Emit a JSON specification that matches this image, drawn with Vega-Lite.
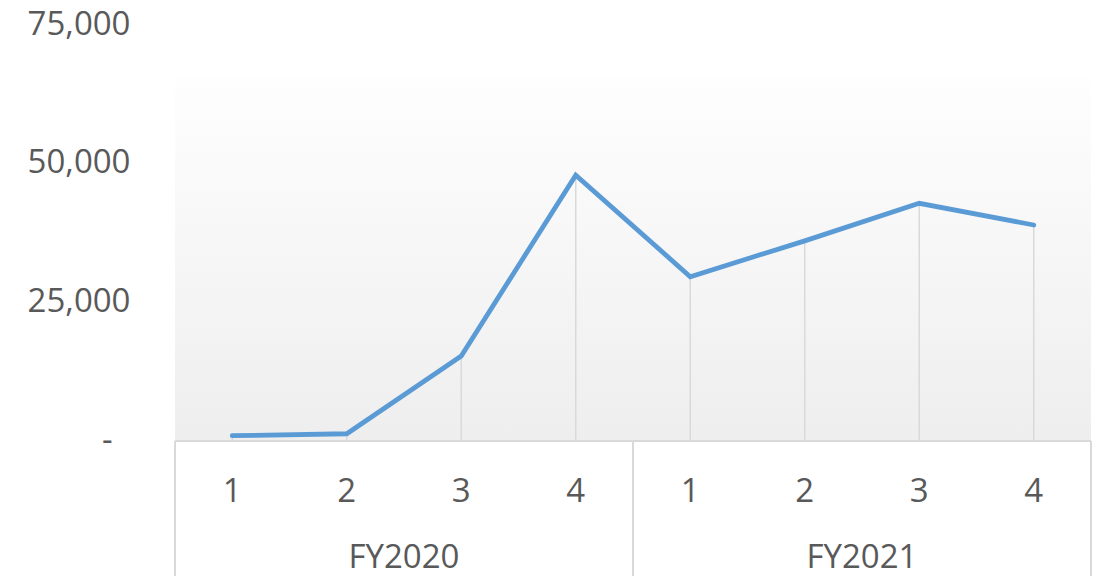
{
  "$schema": "https://vega.github.io/schema/vega-lite/v6.json",
  "width": 916,
  "height": 552,
  "autosize": {"type": "none"},
  "padding": {"left": 175, "top": 24, "right": 6, "bottom": 0},
  "background": "#ffffff",
  "config": {"view": {"stroke": null}, "font": "Open Sans"},
  "datasets": {
    "sales": [
      {"fy": "FY2020", "quarter": "1", "period": 1, "value": 950},
      {"fy": "FY2020", "quarter": "2", "period": 2, "value": 1300},
      {"fy": "FY2020", "quarter": "3", "period": 3, "value": 15300},
      {"fy": "FY2020", "quarter": "4", "period": 4, "value": 47800},
      {"fy": "FY2021", "quarter": "1", "period": 5, "value": 29550},
      {"fy": "FY2021", "quarter": "2", "period": 6, "value": 36000},
      {"fy": "FY2021", "quarter": "3", "period": 7, "value": 42750},
      {"fy": "FY2021", "quarter": "4", "period": 8, "value": 38850}
    ]
  },
  "data": {"name": "sales"},
  "layer": [
    {
      "mark": {
        "type": "rect",
        "fill": {
          "gradient": "linear", "x1": 0, "y1": 0, "x2": 0, "y2": 1,
          "stops": [{"offset": 0, "color": "#fefefe"}, {"offset": 1, "color": "#eeeeee"}]
        }
      },
      "encoding": {
        "x": {"datum": 0.5, "type": "quantitative", "scale": {"domain": [0.5, 8.5], "nice": false, "zero": false}, "axis": null},
        "x2": {"datum": 8.5},
        "y": {"datum": 65300, "type": "quantitative", "scale": {"domain": [-24281, 75000], "nice": false, "zero": false},
          "axis": {
            "title": null,
            "values": [0, 25000, 50000, 75000],
            "labelExpr": "datum.value == 0 ? '-' : format(datum.value, ',')",
            "domain": false,
            "ticks": false,
            "grid": false,
            "labelFont": "Open Sans",
            "labelFontSize": 33,
            "labelColor": "#595959",
            "labelPadding": {"condition": {"test": "datum.value == 0", "value": 63}, "value": 45}
          }
        },
        "y2": {"datum": 0}
      }
    },
    {
      "mark": {"type": "rule", "color": "#d9d9d9", "strokeWidth": 1.5},
      "encoding": {
        "x": {"field": "period", "type": "quantitative", "scale": {"domain": [0.5, 8.5], "nice": false, "zero": false}, "axis": null},
        "y": {"field": "value", "type": "quantitative", "scale": {"domain": [-24281, 75000], "nice": false, "zero": false}},
        "y2": {"datum": 0}
      }
    },
    {
      "mark": {"type": "rule", "color": "#d9d9d9", "strokeWidth": 2},
      "encoding": {
        "x": {"datum": 0.5, "type": "quantitative", "scale": {"domain": [0.5, 8.5], "nice": false, "zero": false}, "axis": null},
        "x2": {"datum": 8.5},
        "y": {"datum": 0, "type": "quantitative", "scale": {"domain": [-24281, 75000], "nice": false, "zero": false}}
      }
    },
    {
      "mark": {"type": "rule", "color": "#d9d9d9", "strokeWidth": 2},
      "encoding": {
        "x": {"datum": 0.5, "type": "quantitative", "scale": {"domain": [0.5, 8.5], "nice": false, "zero": false}, "axis": null},
        "y": {"datum": 0, "type": "quantitative", "scale": {"domain": [-24281, 75000], "nice": false, "zero": false}},
        "y2": {"datum": -24281}
      }
    },
    {
      "mark": {"type": "rule", "color": "#d9d9d9", "strokeWidth": 2},
      "encoding": {
        "x": {"datum": 4.5, "type": "quantitative", "scale": {"domain": [0.5, 8.5], "nice": false, "zero": false}, "axis": null},
        "y": {"datum": 0, "type": "quantitative", "scale": {"domain": [-24281, 75000], "nice": false, "zero": false}},
        "y2": {"datum": -24281}
      }
    },
    {
      "mark": {"type": "rule", "color": "#d9d9d9", "strokeWidth": 2},
      "encoding": {
        "x": {"datum": 8.5, "type": "quantitative", "scale": {"domain": [0.5, 8.5], "nice": false, "zero": false}, "axis": null},
        "y": {"datum": 0, "type": "quantitative", "scale": {"domain": [-24281, 75000], "nice": false, "zero": false}},
        "y2": {"datum": -24281}
      }
    },
    {
      "mark": {"type": "line", "color": "#5b9bd5", "strokeWidth": 4.8, "strokeCap": "round"},
      "encoding": {
        "x": {"field": "period", "type": "quantitative", "scale": {"domain": [0.5, 8.5], "nice": false, "zero": false}, "axis": null},
        "y": {"field": "value", "type": "quantitative", "scale": {"domain": [-24281, 75000], "nice": false, "zero": false}}
      }
    },
    {
      "mark": {"type": "text", "font": "Open Sans", "fontSize": 33, "color": "#595959", "baseline": "alphabetic", "align": "center"},
      "encoding": {
        "x": {"field": "period", "type": "quantitative", "scale": {"domain": [0.5, 8.5], "nice": false, "zero": false}, "axis": null},
        "y": {"datum": -10971, "type": "quantitative", "scale": {"domain": [-24281, 75000], "nice": false, "zero": false}},
        "text": {"field": "quarter", "type": "nominal"}
      }
    },
    {
      "transform": [{"aggregate": [{"op": "mean", "field": "period", "as": "mid"}], "groupby": ["fy"]}],
      "mark": {"type": "text", "font": "Open Sans", "fontSize": 33, "color": "#595959", "baseline": "alphabetic", "align": "center"},
      "encoding": {
        "x": {"field": "mid", "type": "quantitative", "scale": {"domain": [0.5, 8.5], "nice": false, "zero": false}, "axis": null},
        "y": {"datum": -22843, "type": "quantitative", "scale": {"domain": [-24281, 75000], "nice": false, "zero": false}},
        "text": {"field": "fy", "type": "nominal"}
      }
    }
  ]
}
